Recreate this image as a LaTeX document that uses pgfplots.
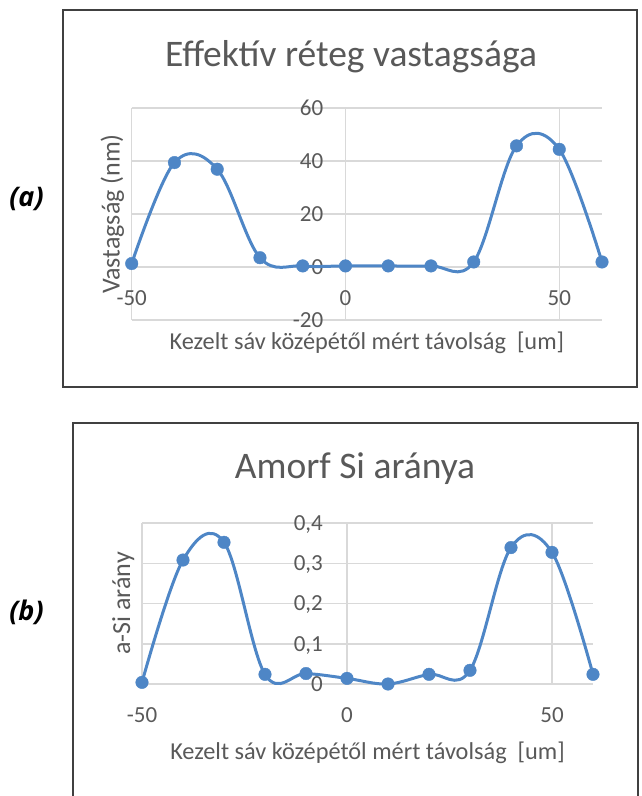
\documentclass[border=0pt]{standalone}
\usepackage{fontspec}
\setmainfont{Carlito}
\newfontfamily\labfont{Open Sans}
\usepackage{pgfplots}
\pgfplotsset{compat=1.18}
\definecolor{xblue}{HTML}{4E86C6}
\definecolor{txt}{HTML}{595959}
\definecolor{grd}{HTML}{D9D9D9}
\definecolor{frm}{HTML}{404040}
\pgfplotsset{
  excel/.style={
    scale only axis, anchor=south west,
    axis lines=middle, axis line style={draw=none},
    hide obscured x ticks=false, hide obscured y ticks=false,
    major tick length=0pt, tick style={draw=none},
    enlargelimits=false, clip=false,
    grid=major, major grid style={grd, line width=1.5pt},
    xmin=-50, xmax=60, xtick={-50,0,50}, xticklabels={-50,0,50},
    ticklabel style={font=\fontsize{23}{27}\selectfont, text=txt, inner sep=0pt},
    xticklabel style={anchor=base, yshift=-38.5pt},
    yticklabel style={anchor=base east, yshift=-7.3pt},
    xlabel style={anchor=base, font=\fontsize{24.3}{28}\selectfont, text=txt, inner sep=0pt},
    ylabel style={anchor=base, rotate=90, font=\fontsize{26}{30}\selectfont, text=txt, inner sep=0pt},
  },
  curve/.style={color=xblue, line width=3pt, smooth, tension=0.6, mark=*, mark size=6.3pt,
    mark options={line width=0.4pt, fill=xblue, draw=xblue, solid}},
}
\begin{document}
\begin{tikzpicture}[x=1pt,y=1pt]
\useasboundingbox (0,0) rectangle (641,796);
% chart (a)
\begin{axis}[excel, at={(131.7pt,476pt)}, width=470.3pt, height=212pt,
  ymin=-20, ymax=60, ytick={-20,0,20,40,60}, yticklabels={-20,0,20,40,60},
  yticklabel style={xshift=-22pt},
  xlabel={Kezelt sáv középétől mért távolság~~[um]},
  ylabel={Vastagság (nm)},
  xlabel style={at={(rel axis cs:0.5,-0.1375)}},
  ylabel style={at={(rel axis cs:-0.0255,0.5)}}]
\addplot[curve] coordinates {(-50,1.3) (-40,39.4) (-30,36.9) (-20,3.5) (-10,0.4) (0,0.4) (10,0.4) (20,0.4) (30,1.9) (40,45.7) (50,44.4) (60,1.9)};
\end{axis}
% chart (b)
\begin{axis}[excel, at={(142pt,112pt)}, width=451pt, height=161pt,
  ymin=0, ymax=0.4, ytick={0,0.1,0.2,0.3,0.4}, yticklabels={0,{0,1},{0,2},{0,3},{0,4}},
  yticklabel style={xshift=-24pt},
  xlabel={Kezelt sáv középétől mért távolság~~[um]},
  ylabel={a-Si arány},
  xlabel style={at={(rel axis cs:0.5,-0.466)}},
  ylabel style={at={(rel axis cs:-0.0266,0.5)}}]
\addplot[curve] coordinates {(-50,0.004) (-40,0.308) (-30,0.352) (-20,0.024) (-10,0.026) (0,0.014) (10,0.0) (20,0.024) (30,0.034) (40,0.339) (50,0.327) (60,0.024)};
\end{axis}
% titles
\node[anchor=base, text=txt, font=\fontsize{37.5}{42}\selectfont, inner sep=0pt] at (351,729) {Effektív réteg vastagsága};
\node[anchor=base, text=txt, font=\fontsize{37.5}{42}\selectfont, inner sep=0pt] at (355,317) {Amorf Si aránya};
% frames
\draw[frm, line width=2.6pt] (63,786) rectangle (637,409);
\draw[frm, line width=2.6pt] (73,-5) -- (73,373) -- (638,373) -- (638,-5);
% panel labels
\node[font=\labfont\bfseries\itshape\fontsize{27}{31}\selectfont, inner sep=0pt] at (26.5,597) {(a)};
\node[font=\labfont\bfseries\itshape\fontsize{27}{31}\selectfont, inner sep=0pt] at (26.5,183.5) {(b)};
\end{tikzpicture}
\end{document}
